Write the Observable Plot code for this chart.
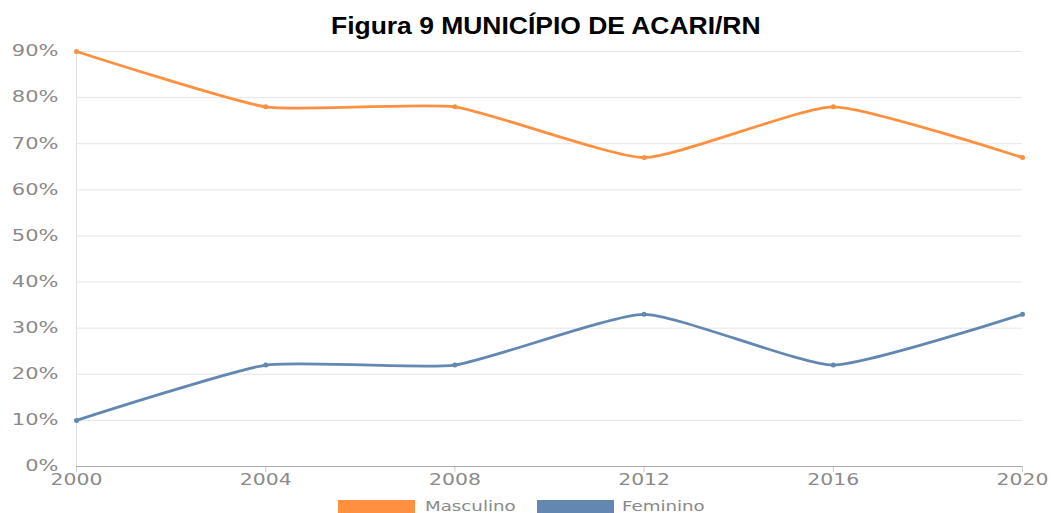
<!DOCTYPE html>
<html><head><meta charset="utf-8">
<script src="https://cdn.jsdelivr.net/npm/d3@7"></script>
<script src="https://cdn.jsdelivr.net/npm/@observablehq/plot@0.6"></script>
<style>
body{margin:0;background:#fff;width:1051px;height:513px;overflow:hidden;position:relative;font-family:"DejaVu Sans",sans-serif;}
#title{position:absolute;left:0;top:0;width:1091px;height:45px;text-align:center;line-height:58px;}
#title span{display:inline-block;font:bold 23px "Liberation Sans",Arial,sans-serif;color:#000;transform:scaleX(1.15);}
#chart{position:absolute;left:0;top:25px;}
#legend{position:absolute;top:500px;left:0;width:1051px;height:20px;}
.sw{position:absolute;top:0;height:16px;width:77px;}
.lt{position:absolute;top:-2px;font:14px "DejaVu Sans",sans-serif;color:#8a8a8a;transform:scaleX(1.3);transform-origin:left center;}
</style></head>
<body>
<div id="title"><span>Figura 9 MUNICÍPIO DE ACARI/RN</span></div>
<div id="chart"></div>
<div id="legend">
<div class="sw" style="left:338px;background:#ff9040"></div><div class="lt" style="left:425px">Masculino</div>
<div class="sw" style="left:537px;background:#6288b1"></div><div class="lt" style="left:622px">Feminino</div>
</div>
<script>
const years = [2000, 2004, 2008, 2012, 2016, 2020];
const masculino = [90, 78, 78, 67, 78, 67];
const feminino = [10, 22, 22, 33, 22, 33];
const yTicks = [0, 10, 20, 30, 40, 50, 60, 70, 80, 90];
const seriesNames = ["Masculino", "Feminino"];
const seriesColors = ["#ff9040", "#6288b1"];

const data = [];
years.forEach((y, i) => {
  data.push({year: y, value: masculino[i] / 100, serie: "Masculino"});
  data.push({year: y, value: feminino[i] / 100, serie: "Feminino"});
});

const plot = Plot.plot({
  width: 1051,
  height: 470,
  marginLeft: 76,
  marginRight: 29,
  marginTop: 26,
  marginBottom: 29,
  style: {fontFamily: "DejaVu Sans, sans-serif", fontSize: "15px", color: "#8a8a8a", overflow: "visible"},
  x: {domain: [2000, 2020], ticks: years, tickFormat: d => String(d), tickSize: 6, tickPadding: 2, label: null},
  y: {domain: [0, 0.9], ticks: yTicks.map(d => d / 100), tickFormat: d => Math.round(d * 100) + "%", tickSize: 0, tickPadding: 18, label: null},
  color: {domain: seriesNames, range: seriesColors},
  marks: [
    Plot.gridY(yTicks.map(d => d / 100), {stroke: "#e6e6e6", strokeOpacity: 1}),
    Plot.ruleX([2000], {stroke: "#e0e0e0"}),
    Plot.ruleY([0], {stroke: "#aaa"}),
    Plot.line(data, {x: "year", y: "value", z: "serie", stroke: "serie", strokeWidth: 2.8, curve: d3.curveCardinal.tension(0.5)}),
    Plot.dot(data, {x: "year", y: "value", fill: "serie", r: 2.5})
  ]
});
plot.querySelectorAll('[aria-label="x-axis tick"]').forEach(e => e.setAttribute("stroke", "#ccc"));
document.getElementById("chart").appendChild(plot);
function stretch(sel, s) {
  plot.querySelectorAll(sel + " text").forEach(t => {
    const w = t.getComputedTextLength();
    if (w > 0) {
      t.setAttribute("textLength", (w * s).toFixed(1));
      t.setAttribute("lengthAdjust", "spacingAndGlyphs");
    }
  });
}
stretch('[aria-label="y-axis tick label"]', 1.4);
stretch('[aria-label="x-axis tick label"]', 1.36);
</script>
</body></html>
